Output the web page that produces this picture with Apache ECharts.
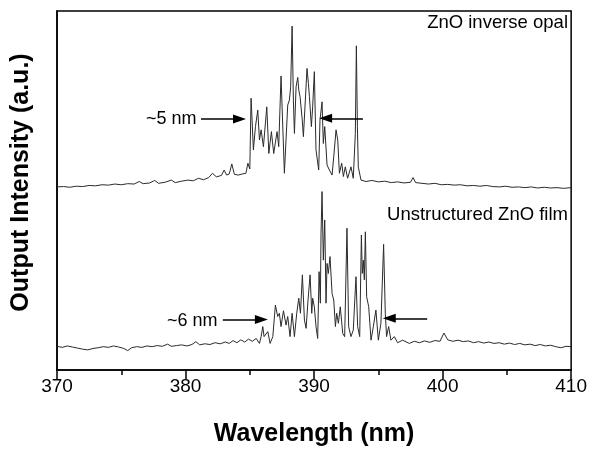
<!DOCTYPE html>
<html>
<head>
<meta charset="utf-8">
<script src="https://cdn.jsdelivr.net/npm/echarts/dist/echarts.min.js"></script>
<style>
	html, body { margin: 0; padding: 0; background: #fff; }
	#spectra { width: 590px; height: 453px; }
</style>
</head>
<body>
<div id="spectra"></div>
<script>
// ZnO inverse opal lasing spectrum (upper trace), wavelength nm / intensity a.u.
var opalWl = [
	370.0, 370.5, 371.0, 371.5, 372.0, 372.5, 373.0, 373.5, 374.0, 374.5,
	375.0, 375.5, 376.0, 376.4, 376.7, 377.2, 377.6, 377.9, 378.4, 378.9,
	379.2, 379.7, 380.2, 380.6, 381.0, 381.4, 381.8, 382.1, 382.4, 382.8,
	383.0, 383.2, 383.4, 383.6, 383.8, 384.1, 384.4, 384.7, 384.85, 385.0,
	385.10, 385.28, 385.44, 385.62, 385.75, 385.88, 386.06, 386.32, 386.48, 386.68,
	386.86, 387.12, 387.25, 387.43, 387.69, 387.95, 388.08, 388.18, 388.29, 388.39,
	388.47, 388.60, 388.73, 388.81, 388.91, 389.07, 389.17, 389.32, 389.45, 389.56,
	389.64, 389.79, 389.89, 390.02, 390.15, 390.36, 390.46, 390.62, 390.72, 390.83,
	391.01, 391.19, 391.40, 391.53, 391.71, 391.84, 391.97, 392.15, 392.28, 392.43,
	392.61, 392.87, 393.05, 393.21, 393.29, 393.37, 393.44, 393.65, 394.04, 394.5,
	395.0, 395.5, 396.0, 396.5, 397.0, 397.5, 397.7, 397.9, 398.4, 398.9,
	399.4, 399.9, 400.4, 400.9, 401.4, 401.9, 402.4, 402.9, 403.4, 403.9,
	404.4, 404.9, 405.4, 405.9, 406.4, 406.9, 407.4, 407.9, 408.4, 408.9,
	409.4, 410.0
];
var opalInt = [
	51.0, 51.1, 50.9, 51.2, 51.1, 51.4, 51.3, 51.6, 51.5, 51.8,
	51.6, 51.9, 51.8, 52.5, 51.9, 52.1, 52.8, 52.0, 52.3, 52.9,
	52.2, 52.6, 52.9, 52.7, 53.4, 53.0, 53.6, 54.8, 53.8, 54.2,
	55.7, 54.3, 54.6, 57.4, 54.5, 54.3, 54.6, 54.8, 57.6, 56.0,
	75.7, 61.3, 67.8, 72.4, 64.1, 66.9, 62.2, 73.3, 60.3, 66.4,
	60.3, 66.4, 62.2, 81.9, 54.8, 73.8, 75.2, 78.9, 95.8, 75.2,
	65.9, 78.9, 81.5, 78.0, 76.1, 70.1, 65.0, 75.2, 84.0, 79.8,
	76.1, 67.8, 73.3, 83.1, 61.3, 55.7, 69.6, 74.7, 63.1, 67.8,
	57.1, 55.7, 54.3, 59.4, 66.9, 64.1, 54.8, 57.6, 53.9, 56.6,
	53.4, 56.6, 53.4, 65.9, 90.3, 67.8, 56.6, 52.9, 52.5, 52.8,
	52.4, 52.6, 52.2, 52.4, 52.1, 52.3, 53.6, 52.2, 52.0, 51.8,
	52.0, 51.6, 51.7, 51.5, 51.6, 51.3, 51.4, 51.2, 51.4, 51.1,
	51.0, 51.2, 50.9, 51.0, 50.8, 51.0, 50.7, 50.9, 50.7, 50.8,
	50.6, 50.8
];

// unstructured ZnO film spectrum (lower trace)
var filmWl = [
	370.0, 370.4, 370.8, 371.2, 371.6, 372.0, 372.4, 372.8, 373.2, 373.6,
	374.0, 374.4, 374.8, 375.2, 375.5, 375.8, 376.2, 376.6, 377.0, 377.4,
	377.8, 378.2, 378.6, 378.9, 379.3, 379.7, 380.1, 380.5, 380.8, 381.1,
	381.5, 381.9, 382.3, 382.7, 383.1, 383.4, 383.7, 384.0, 384.3, 384.6,
	384.9, 385.2, 385.5, 385.75, 385.88, 386.01, 386.11, 386.22, 386.40, 386.58,
	386.79, 386.99, 387.17, 387.30, 387.43, 387.62, 387.82, 387.95, 388.13, 388.29,
	388.47, 388.65, 388.81, 388.94, 389.09, 389.25, 389.38, 389.53, 389.69, 389.82,
	389.89, 390.02, 390.15, 390.28, 390.39, 390.49, 390.54, 390.62, 390.72, 390.83,
	390.93, 391.01, 391.11, 391.24, 391.40, 391.53, 391.66, 391.76, 391.89, 392.04,
	392.23, 392.38, 392.56, 392.69, 392.87, 393.05, 393.26, 393.39, 393.55, 393.68,
	393.75, 393.83, 393.91, 393.99, 394.09, 394.25, 394.43, 394.61, 394.81, 395.00,
	395.20, 395.41, 395.54, 395.64, 395.80, 395.98, 396.24, 396.50, 396.89, 397.41,
	397.8, 398.2, 398.6, 399.0, 399.4, 399.8, 400.1, 400.4, 400.8, 401.2,
	401.6, 402.0, 402.4, 402.8, 403.2, 403.6, 404.0, 404.4, 404.8, 405.2,
	405.6, 406.0, 406.4, 406.8, 407.2, 407.6, 408.0, 408.4, 408.8, 409.2,
	409.6, 410.0
];
var filmInt = [
	6.6, 6.3, 6.7, 6.4, 6.1, 5.8, 5.6, 6.0, 6.2, 6.5,
	6.3, 6.7, 6.4, 6.0, 5.4, 6.2, 6.5, 6.3, 6.7, 6.5,
	6.8, 6.6, 7.2, 6.6, 6.8, 7.0, 6.7, 7.1, 7.9, 7.0,
	7.3, 7.1, 7.6, 7.3, 7.8, 7.4, 8.2, 7.6, 8.4, 7.8,
	8.6, 8.0, 8.8, 7.4, 9.3, 12.1, 9.3, 8.8, 10.7, 7.4,
	9.3, 18.1, 14.9, 15.8, 12.1, 16.5, 12.5, 14.9, 9.3, 15.8,
	9.3, 15.8, 20.0, 15.8, 26.5, 13.9, 11.6, 19.5, 26.5, 15.8,
	20.0, 17.6, 12.1, 8.8, 27.4, 18.6, 38.1, 49.7, 30.6, 41.8,
	18.6, 29.7, 26.9, 31.6, 21.3, 19.5, 12.1, 15.8, 13.0, 17.6,
	10.2, 9.3, 39.5, 12.1, 9.3, 11.1, 26.0, 12.1, 9.3, 37.6,
	26.9, 30.6, 25.1, 38.5, 20.4, 17.6, 8.3, 12.1, 16.7, 8.3,
	13.0, 35.0, 15.8, 9.3, 12.1, 8.3, 9.3, 7.6, 8.3, 7.4,
	8.0, 7.6, 8.1, 7.7, 8.2, 8.0, 10.3, 8.4, 8.0, 8.3,
	7.9, 8.1, 7.6, 7.9, 7.5, 7.8, 7.4, 7.6, 7.2, 7.5,
	7.1, 7.4, 7.0, 7.2, 6.8, 7.1, 6.7, 6.9, 6.5, 6.2,
	6.6, 6.5
];

// x axis ticks
var xTicks = [370, 380, 390, 400, 410];

// linewidth arrows: [x from, y from, x to (head), y to]
var opalArrows = [[381.2, 69.9, 384.2, 69.9], [393.8, 70.1, 390.9, 70.1]];
var filmArrows = [[382.9, 14.1, 385.9, 14.1], [398.8, 14.4, 395.85, 14.4]];

function toPairs(xs, ys) {
	var out = [];
	for (var i = 0; i < xs.length; i++) {
		out.push([xs[i], ys[i]]);
	}
	return out;
}

function arrowLines(list) {
	return list.map(function(a) {
		return [{coord: [a[0], a[1]]}, {coord: [a[2], a[3]]}];
	});
}

function arrowMark(list) {
	return {
		silent: true,
		symbol: ['none', 'triangle'],
		symbolSize: [9, 13],
		label: {show: false},
		lineStyle: {color: '#000', width: 1.6, type: 'solid'},
		emphasis: {disabled: true},
		data: arrowLines(list)
	};
}

var chart = echarts.init(document.getElementById('spectra'));
var font = 'Liberation Sans, Arial, sans-serif';

var option = {
	animation: false,
	textStyle: {fontFamily: font},
	grid: {
		left: 57,
		right: 18,
		top: 11,
		bottom: 83,
		show: true,
		borderColor: '#000',
		borderWidth: 1.5
	},
	xAxis: {
		type: 'value',
		min: xTicks[0],
		max: xTicks[xTicks.length - 1],
		interval: 10,
		name: 'Wavelength (nm)',
		nameLocation: 'middle',
		nameGap: 52,
		nameTextStyle: {fontSize: 25, fontWeight: 'bold', color: '#000', fontFamily: font},
		axisLine: {show: true, lineStyle: {color: '#000', width: 1.5}},
		axisTick: {show: true, inside: false, length: 9, lineStyle: {color: '#000', width: 1.5}},
		minorTick: {show: true, splitNumber: 2, length: 5, lineStyle: {color: '#000', width: 1.5}},
		axisLabel: {fontSize: 19, color: '#000', margin: 7, fontFamily: font},
		splitLine: {show: false}
	},
	yAxis: {
		type: 'value',
		min: 0,
		max: 100,
		name: 'Output Intensity (a.u.)',
		nameLocation: 'middle',
		nameGap: 23,
		nameTextStyle: {fontSize: 25, fontWeight: 'bold', color: '#000', fontFamily: font, padding: [0, 0, 0, 16]},
		axisLine: {show: true, lineStyle: {color: '#000', width: 1.5}},
		axisTick: {show: false},
		axisLabel: {show: false},
		splitLine: {show: false}
	},
	series: [
		{
			name: 'ZnO inverse opal',
			type: 'line',
			data: toPairs(opalWl, opalInt),
			showSymbol: false,
			symbol: 'none',
			lineStyle: {color: '#2a2a2a', width: 1},
			markLine: arrowMark(opalArrows)
		},
		{
			name: 'Unstructured ZnO film',
			type: 'line',
			data: toPairs(filmWl, filmInt),
			showSymbol: false,
			symbol: 'none',
			lineStyle: {color: '#2a2a2a', width: 1},
			markLine: arrowMark(filmArrows)
		}
	],
	graphic: [
		{type: 'text', right: 22, top: 13, style: {text: 'ZnO inverse opal', fontSize: 18.5, fill: '#000', fontFamily: font}},
		{type: 'text', right: 22, top: 205, style: {text: 'Unstructured ZnO film', fontSize: 18.5, fill: '#000', fontFamily: font}},
		{type: 'text', left: 146, top: 110, style: {text: '~5 nm', fontSize: 18, fill: '#000', fontFamily: font}},
		{type: 'text', left: 167, top: 312, style: {text: '~6 nm', fontSize: 18, fill: '#000', fontFamily: font}}
	]
};

chart.setOption(option);
</script>
</body>
</html>
